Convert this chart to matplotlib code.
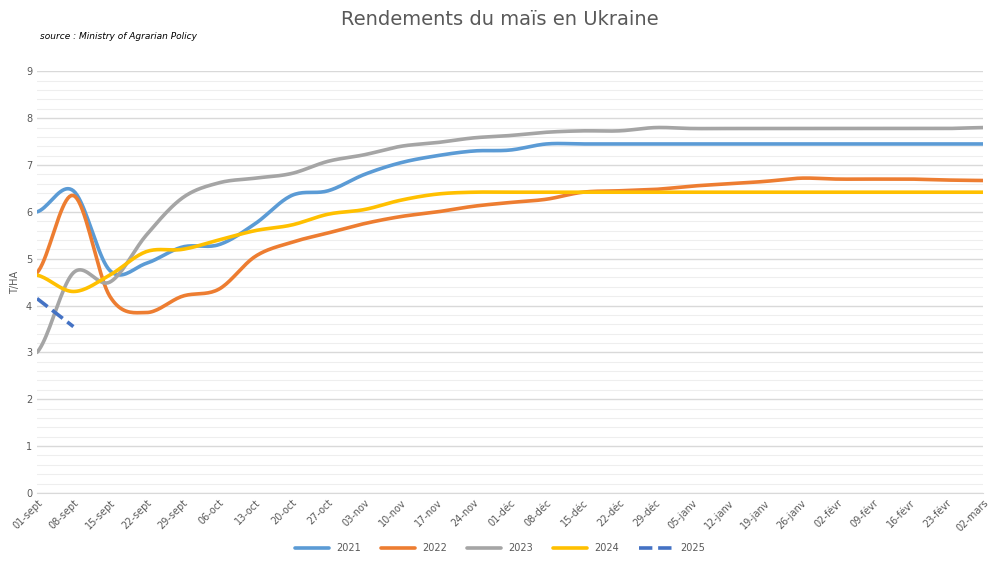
import numpy as np
import matplotlib
matplotlib.use("Agg")
import matplotlib.pyplot as plt
from matplotlib.ticker import MultipleLocator

dates = ["01-sept","08-sept","15-sept","22-sept","29-sept","06-oct","13-oct","20-oct","27-oct",
         "03-nov","10-nov","17-nov","24-nov","01-déc","08-déc","15-déc","22-déc","29-déc",
         "05-janv","12-janv","19-janv","26-janv","02-févr","09-févr","16-févr","23-févr","02-mars"]
y2021 = [6.0,6.45,4.75,4.9,5.25,5.3,5.75,6.35,6.45,6.8,7.05,7.2,7.3,7.32,7.45,7.45,7.45,7.45,
         7.45,7.45,7.45,7.45,7.45,7.45,7.45,7.45,7.45]
y2022 = [4.7,6.35,4.2,3.85,4.2,4.35,5.05,5.35,5.55,5.75,5.9,6.0,6.12,6.2,6.27,6.42,6.45,6.48,
         6.55,6.6,6.65,6.72,6.7,6.7,6.7,6.68,6.67]
y2023 = [3.0,4.7,4.5,5.5,6.3,6.62,6.72,6.82,7.08,7.22,7.4,7.48,7.58,7.63,7.7,7.73,7.73,7.8,
         7.78,7.78,7.78,7.78,7.78,7.78,7.78,7.78,7.8]
y2024 = [4.65,4.3,4.65,5.15,5.2,5.4,5.6,5.72,5.95,6.05,6.25,6.38,6.42,6.42,6.42,6.42,6.42,6.42,
         6.42,6.42,6.42,6.42,6.42,6.42,6.42,6.42,6.42]
y2025 = [4.15,3.55]

def smooth(y, n=20):
    y = np.asarray(y, float)
    x = np.arange(len(y), dtype=float)
    if len(y) < 3:
        return x, y
    P = np.concatenate([[y[0]], y, [y[-1]]])
    xs, ys = [], []
    for i in range(len(y) - 1):
        p0, p1, p2, p3 = P[i], P[i+1], P[i+2], P[i+3]
        t = np.linspace(0, 1, n, endpoint=False)
        v = 0.5*((2*p1) + (-p0+p2)*t + (2*p0-5*p1+4*p2-p3)*t**2 + (-p0+3*p1-3*p2+p3)*t**3)
        xs.append(i + t); ys.append(v)
    xs.append([x[-1]]); ys.append([y[-1]])
    return np.concatenate(xs), np.concatenate(ys)

fig = plt.figure(figsize=(10, 5.62), dpi=100)
ax = fig.add_axes([0.037, 0.123, 0.946, 0.75])
series = [(y2021, "#5B9BD5", "2021", "-"), (y2022, "#ED7D31", "2022", "-"),
          (y2023, "#A5A5A5", "2023", "-"), (y2024, "#FFC000", "2024", "-"),
          (y2025, "#4472C4", "2025", "--")]
for y, c, lab, ls in series:
    xs, ys = smooth(y)
    ax.plot(xs, ys, color=c, lw=2.6, ls=ls, label=lab, solid_capstyle="round")

ax.set_xlim(0, len(dates) - 1)
ax.set_ylim(0, 9)
ax.set_xticks(range(len(dates)))
ax.set_xticklabels(dates, rotation=45, ha="right", rotation_mode="anchor", fontsize=7, color="#595959")
ax.yaxis.set_major_locator(MultipleLocator(1))
ax.yaxis.set_minor_locator(MultipleLocator(0.2))
ax.tick_params(axis="y", labelsize=7, colors="#595959", length=0, which="both")
ax.tick_params(axis="x", length=0)
ax.grid(axis="y", which="major", color="#D9D9D9", lw=1)
ax.grid(axis="y", which="minor", color="#EEEEEE", lw=0.8)
ax.set_axisbelow(True)
for s in ["top", "right", "left"]:
    ax.spines[s].set_visible(False)
ax.spines["bottom"].set_color("#D9D9D9")
ax.set_ylabel("T/HA", fontsize=7, color="#595959", labelpad=4)
fig.text(0.5, 0.965, "Rendements du maïs en Ukraine", ha="center", va="center", fontsize=14, color="#595959")
fig.text(0.04, 0.935, "source : Ministry of Agrarian Policy", fontsize=6.5, style="italic", color="#000000", va="center")
fig.legend(loc="lower center", bbox_to_anchor=(0.5, 0.0), ncol=5, frameon=False, fontsize=7,
           handlelength=3.5, labelcolor="#595959")
fig.savefig("out.png", dpi=100)
